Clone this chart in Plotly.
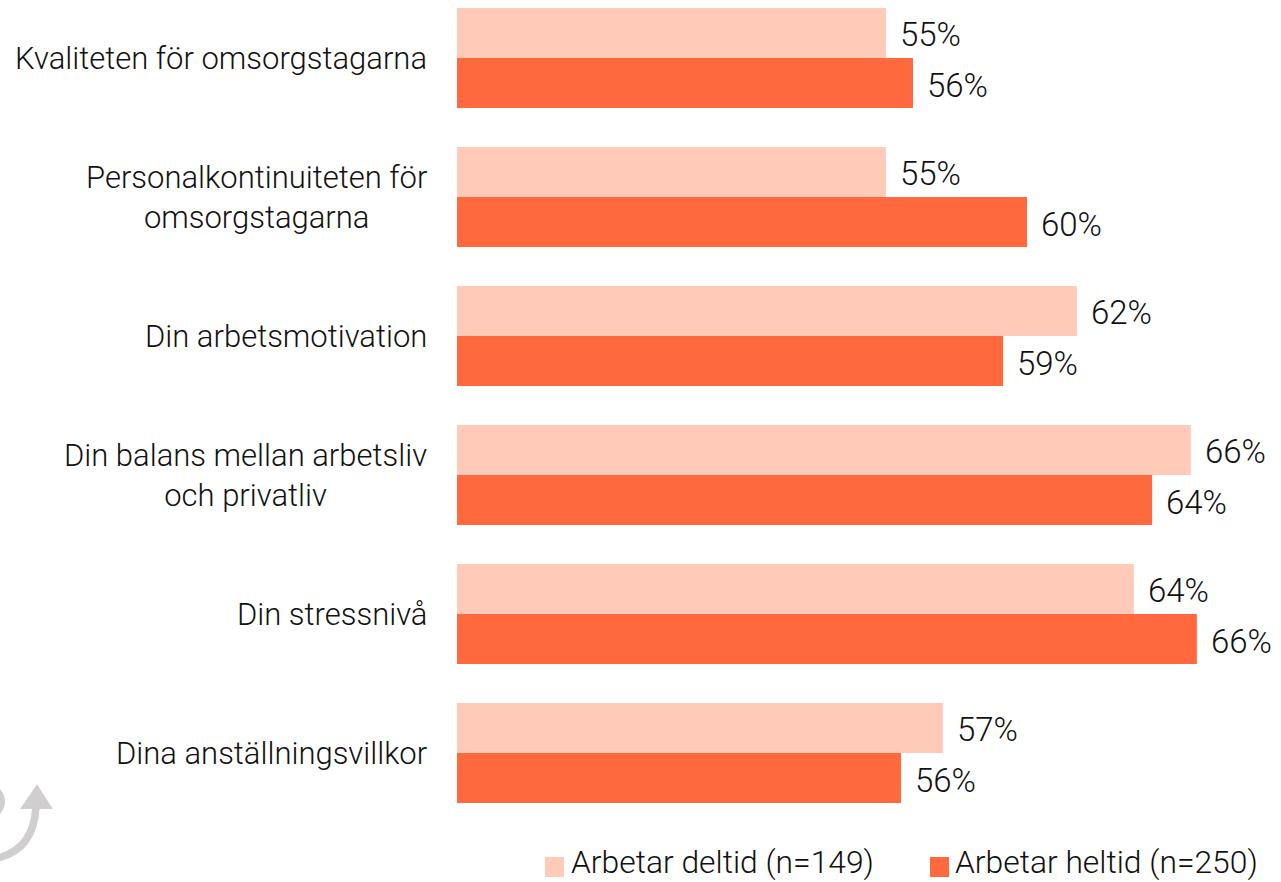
import plotly.graph_objects as go

categories = ["Kvaliteten för omsorgstagarna", "Personalkontinuiteten för<br>omsorgstagarna",
              "Din arbetsmotivation", "Din balans mellan arbetsliv<br>och privatliv",
              "Din stressnivå", "Dina anställningsvillkor"]
series_names = ["Arbetar deltid (n=149)", "Arbetar heltid (n=250)"]
deltid = [55.05, 55.05, 61.75, 65.75, 63.75, 57.05]
heltid = [56.0, 60.0, 59.16, 64.39, 65.96, 55.58]
deltid_labels = ["55%", "55%", "62%", "66%", "64%", "57%"]
heltid_labels = ["56%", "60%", "59%", "64%", "66%", "56%"]

W, H, L = 1281, 882, 457
C1, C2, GREY, INK = "#FFCBB8", "#FF693D", "#D0CECE", "#111111"
FONT = dict(family="Roboto", size=31, color=INK, weight=300)
VALUE_FONT = dict(family="Roboto", size=33, color=INK, weight=300)
LEGEND_FONT = dict(family="Roboto", size=31.8, color=INK, weight=300)
PLOT_W = W - L


def px(x):
    return (x - L) / PLOT_W


def py(y):
    return 1 - y / H


def path(fmt, *pts):
    vals = []
    for x, y in pts:
        vals += [px(x), py(y)]
    return fmt.format(*vals)


fig = go.Figure()
fig.add_bar(y=categories, x=deltid, name=series_names[0], orientation="h",
            marker=dict(color=C1, line=dict(width=0)))
fig.add_bar(y=categories, x=heltid, name=series_names[1], orientation="h",
            marker=dict(color=C2, line=dict(width=0)))

annotations = []
for c, d, h, dl, hl in zip(categories, deltid, heltid, deltid_labels, heltid_labels):
    annotations.append(dict(x=0, xref="paper", y=c, yref="y", text=c, showarrow=False,
                            xanchor="right", align="center", xshift=-28, yshift=0, font=FONT))
    annotations.append(dict(x=d, y=c, yref="y", text=dl, showarrow=False, xanchor="left",
                            xshift=12, yshift=24, font=VALUE_FONT))
    annotations.append(dict(x=h, y=c, yref="y", text=hl, showarrow=False, xanchor="left",
                            xshift=12, yshift=-27, font=VALUE_FONT))

# Legend drawn to the reference's swatch size
shapes = []
legend_items = [(series_names[0], C1, 545, 571), (series_names[1], C2, 930, 955)]
for name, col, sx, tx in legend_items:
    shapes.append(dict(type="rect", xref="paper", yref="paper", x0=px(sx), x1=px(sx + 19),
                       y0=py(877), y1=py(857), fillcolor=col, line_width=0))
    annotations.append(dict(x=px(tx), xref="paper", y=py(862), yref="paper", text=name,
                            showarrow=False, xanchor="left", yanchor="middle", xshift=-2,
                            font=LEGEND_FONT))

# Decorative arrow fragment in the lower left corner
shapes.append(dict(type="path", xref="paper", yref="paper", line=dict(color=GREY, width=7.5),
                   path=path("M{},{} Q{},{} {},{}", (-3, 858), (34, 850), (36, 806))))
shapes.append(dict(type="path", xref="paper", yref="paper", line=dict(color=GREY, width=8),
                   path=path("M{},{} Q{},{} {},{}", (-6, 789), (8, 801), (-6, 815))))
shapes.append(dict(type="path", xref="paper", yref="paper", line=dict(color=GREY, width=2),
                   fillcolor=GREY,
                   path=path("M{},{} L{},{} L{},{} Z", (37, 786), (22, 808), (51, 808))))

fig.update_layout(
    width=W, height=H, margin=dict(l=L, r=0, t=0, b=0), autosize=False,
    barmode="group", bargap=0.28, bargroupgap=0, showlegend=False,
    plot_bgcolor="white", paper_bgcolor="white",
    xaxis=dict(range=[40, 40 + PLOT_W / 28.5], visible=False, fixedrange=True),
    yaxis=dict(range=[(H - 58) / 139, -58 / 139], visible=False, fixedrange=True,
               type="category", categoryorder="array", categoryarray=categories),
    annotations=annotations, shapes=shapes,
)
fig.write_html("out.html", config=dict(displayModeBar=False),
               post_script="document.body.style.margin='0';document.documentElement.style.overflow='hidden';")
